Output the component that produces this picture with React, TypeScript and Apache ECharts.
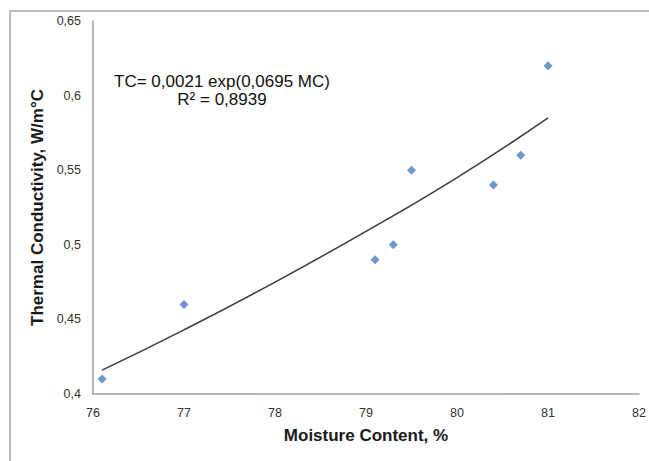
import React, { useEffect, useRef } from "react";
import * as echarts from "echarts";

const moisture = [76.1, 77.0, 79.1, 79.3, 79.5, 80.4, 80.7, 81.0];
const conductivity = [0.41, 0.46, 0.49, 0.5, 0.55, 0.54, 0.56, 0.62];

const trendX = [76.1, 77, 78, 79, 80, 81];
const trendY = [0.416, 0.443, 0.475, 0.509, 0.545, 0.585];

const xTicks = { min: 76, max: 82, interval: 1 };
const yTicks = { min: 0.4, max: 0.65, interval: 0.05 };

const equationText = "TC= 0,0021 exp(0,0695 MC)";
const r2Text = "R² = 0,8939";
const xTitle = "Moisture Content, %";
const yTitle = "Thermal Conductivity, W/m°C";

const fmt = (v: number) => String(+v.toFixed(2)).replace(".", ",");

export default function App() {
  const ref = useRef<HTMLDivElement>(null);
  useEffect(() => {
    if (!ref.current) return;
    const chart = echarts.init(ref.current, undefined, { renderer: "svg" });
    const font = "'Liberation Sans', Arial, sans-serif";
    chart.setOption({
      animation: false,
      backgroundColor: "#ffffff",
      textStyle: { fontFamily: font },
      grid: { left: 93, right: 6, top: 21, bottom: 67, containLabel: false },
      xAxis: {
        type: "value",
        min: xTicks.min,
        max: xTicks.max,
        interval: xTicks.interval,
        name: xTitle,
        nameLocation: "middle",
        nameGap: 33,
        nameTextStyle: { fontSize: 17, fontWeight: "bold", color: "#1a1a1a", fontFamily: font },
        axisLine: { show: true, lineStyle: { color: "#a0a0a0", width: 1.5 } },
        axisTick: { show: false },
        splitLine: { show: false },
        axisLabel: { fontSize: 12.5, color: "#333333", margin: 12, formatter: fmt, fontFamily: font },
      },
      yAxis: {
        type: "value",
        min: yTicks.min,
        max: yTicks.max,
        interval: yTicks.interval,
        name: yTitle,
        nameLocation: "middle",
        nameGap: 40,
        nameRotate: 90,
        nameTextStyle: { fontSize: 17, fontWeight: "bold", color: "#1a1a1a", fontFamily: font },
        axisLine: { show: true, lineStyle: { color: "#a0a0a0", width: 1.5 } },
        axisTick: { show: false },
        splitLine: { show: false },
        axisLabel: { fontSize: 12.5, color: "#333333", margin: 12, formatter: fmt, fontFamily: font },
      },
      graphic: [
        {
          type: "rect",
          z: -10,
          shape: { x: 10, y: 11, width: 700, height: 520 },
          style: { fill: "none", stroke: "#a6a6a6", lineWidth: 1.5 },
        },
        {
          type: "text",
          x: 222,
          y: 72,
          style: {
            text: equationText + "\n" + r2Text,
            textAlign: "center",
            fontSize: 17,
            lineHeight: 18,
            fontFamily: font,
            fill: "#111111",
          },
        },
      ],
      series: [
        {
          type: "line",
          data: trendX.map((x, i) => [x, trendY[i]]),
          smooth: true,
          symbol: "none",
          lineStyle: { color: "#3a3a3a", width: 1.5 },
          z: 1,
        },
        {
          type: "scatter",
          data: moisture.map((x, i) => [x, conductivity[i]]),
          symbol: "diamond",
          symbolSize: 9,
          itemStyle: { color: "#4a7ebb" },
          z: 2,
        },
      ],
    });
    return () => chart.dispose();
  }, []);
  return (
    <div
      ref={ref}
      style={{ position: "fixed", left: 0, top: 0, width: 649, height: 461, background: "#fff" }}
    />
  );
}
